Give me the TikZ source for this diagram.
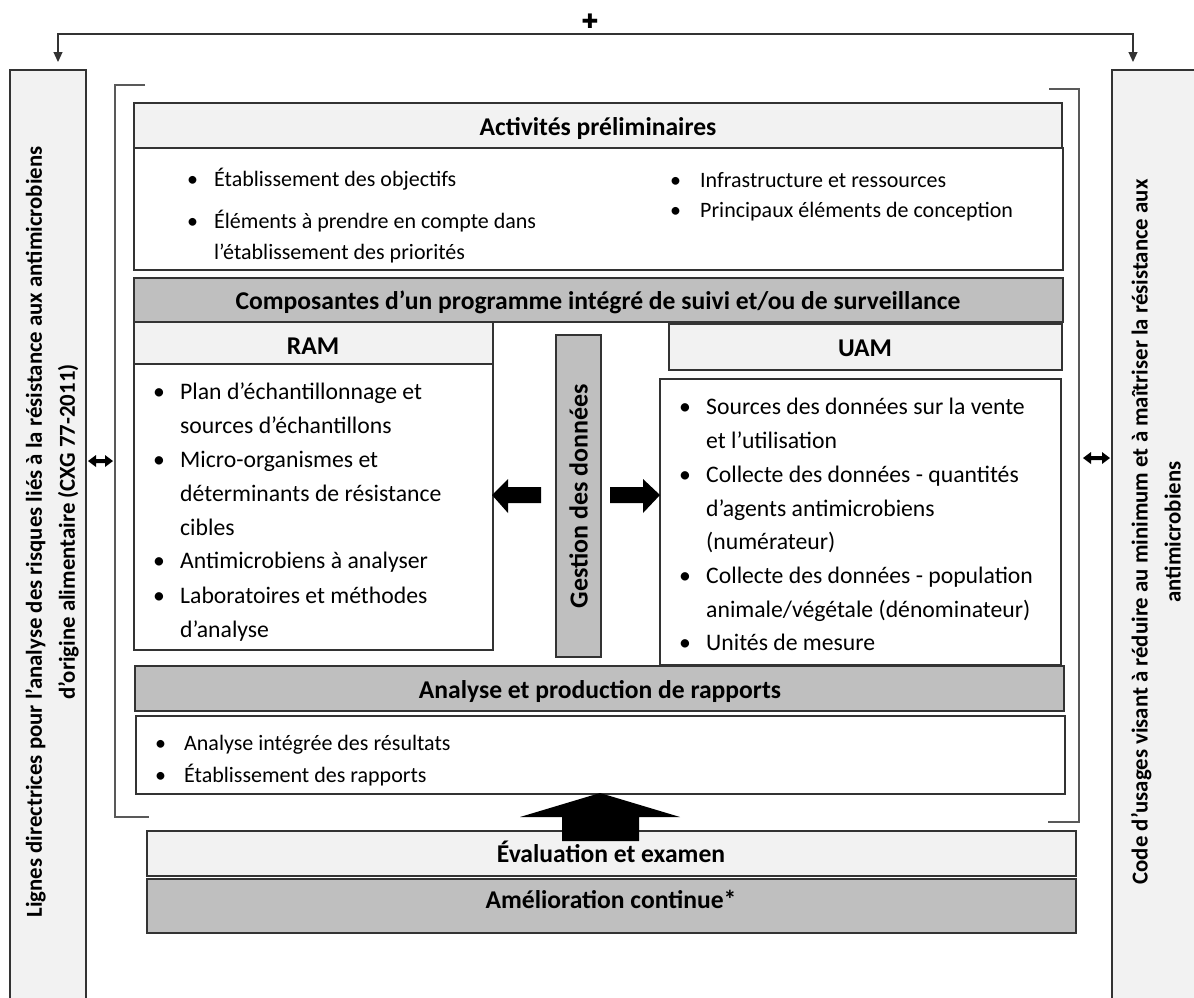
\documentclass[tikz,border=0pt]{standalone}
\usepackage{fontspec}
\setmainfont{Carlito}
\newfontfamily\djv{DejaVu Sans}
\usetikzlibrary{arrows.meta,fit}
\definecolor{lg}{HTML}{F2F2F2}
\definecolor{dg}{HTML}{BFBFBF}
\definecolor{bd}{HTML}{333333}
\newcommand\bul{\makebox[27pt][l]{\textbullet}}
\begin{document}
\begin{tikzpicture}[x=1pt,y=-1pt,
 frame/.style={draw=bd,line width=1.4pt,inner sep=0pt,outer sep=0pt},
 lbox/.style={frame,fill=lg},
 dbox/.style={frame,fill=dg},
 wbox/.style={frame,fill=white},
 hd/.style={font=\fontsize{25.6}{30}\selectfont\bfseries,inner sep=0pt,anchor=base},
 itm/.style={font=\fontsize{22}{26}\selectfont,inner sep=0pt,anchor=base west},
 itb/.style={font=\fontsize{23.7}{28}\selectfont,inner sep=0pt,anchor=base west},
 side/.style={font=\fontsize{22.8}{33}\selectfont\bfseries,align=center,rotate=90,inner sep=0pt},
 conn/.style={line width=1.1pt,draw=bd},
 brk/.style={line width=1.3pt,draw=black!65},
 blk/.style={fill=black,draw=none}]
\useasboundingbox (0,0) rectangle (1194,997);
\clip (0,0) rectangle (1194,997);
% side bars
\node[lbox, fit={(10,70)(86,1010)}] (lbar) {};
\node[lbox, fit={(1112,70)(1210,1010)}] (rbar) {};
\node[side] (ltxt) at (52,532) {Lignes directrices pour l’analyse des risques liés à la résistance aux antimicrobiens\\d’origine alimentaire (CXG 77-2011)};
\node[side] (rtxt) at (1156,532) {Code d’usages visant à réduire au minimum et à maîtriser la résistance aux\\antimicrobiens};
% top connector
\node[font=\fontsize{20}{20}\selectfont\djv,inner sep=0pt] (plus) at (590,21) {✚};
\coordinate (la) at (58,62);
\coordinate (ra) at (1133,62);
\coordinate (tm) at (590,34);
\draw[conn,{Triangle[length=10pt,width=9pt]}-{Triangle[length=10pt,width=9pt]}] (la) |- (tm) -| (ra);
% brackets
\draw[brk] (145,85) -- (115,85) -- (115,817) -- (149,817);
\draw[brk] (1049,89) -- (1079,89) -- (1079,822) -- (1048,822);
% double arrows (bold, between side bars and bracket)
\fill[blk] (88,461) -- (96,455) -- (96,459) -- (105,459) -- (105,455) -- (113,461) -- (105,467) -- (105,463) -- (96,463) -- (96,467) -- cycle;
\fill[blk] (1083,458) -- (1091,452) -- (1091,456) -- (1102,456) -- (1102,452) -- (1110,458) -- (1102,464) -- (1102,460) -- (1091,460) -- (1091,464) -- cycle;
% Activites
\node[wbox, fit={(134,148)(1063,270)}] (actb) {};
\node[lbox, fit={(134,103)(1062,148)}] (act) {};
\node[hd] (actt) at (598,135) {Activités préliminaires};
\node[itm] (a1) at (187,186) {\bul Établissement des objectifs};
\node[itm] (a2) at (187,228) {\bul Éléments à prendre en compte dans};
\node[itm] (a3) at (214,259) {l’établissement des priorités};
\node[itm] (a4) at (670,187) {\makebox[30pt][l]{\textbullet}Infrastructure et ressources};
\node[itm] (a5) at (670,217) {\makebox[30pt][l]{\textbullet}Principaux éléments de conception};
% Composantes
\node[dbox, fit={(134,278)(1063,322)}] (comp) {};
\node[hd] (compt) at (598,309) {Composantes d’un programme intégré de suivi et/ou de surveillance};
% RAM
\node[wbox, fit={(134,364)(493,650)}] (ramb) {};
\node[lbox, fit={(134,322)(493,364)}] (ram) {};
\node[hd] (ramt) at (313,354) {RAM};
\node[itb] (r1) at (153,399) {\bul Plan d’échantillonnage et};
\node[itb] (r2) at (180,433) {sources d’échantillons};
\node[itb] (r3) at (153,467) {\bul Micro-organismes et};
\node[itb] (r4) at (180,501) {déterminants de résistance};
\node[itb] (r5) at (180,535) {cibles};
\node[itb] (r6) at (153,568) {\bul Antimicrobiens à analyser};
\node[itb] (r7) at (153,603) {\bul Laboratoires et méthodes};
\node[itb] (r8) at (180,637) {d’analyse};
% Gestion
\node[dbox, fit={(556,335)(601,657)}] (gest) {};
\node[font=\fontsize{26}{30}\selectfont\bfseries, rotate=90, inner sep=0pt] (gtxt) at (gest.center) {Gestion des données};
% UAM
\node[lbox, fit={(669,324)(1062,370)}] (uam) {};
\node[hd] (uamt) at (865,356) {UAM};
\node[wbox, fit={(660,379)(1061,665)}] (uamb) {};
\node[itb] (u1) at (679,414) {\bul Sources des données sur la vente};
\node[itb] (u2) at (706,448) {et l’utilisation};
\node[itb] (u3) at (679,482) {\bul Collecte des données - quantités};
\node[itb] (u4) at (706,516) {d’agents antimicrobiens};
\node[itb] (u5) at (706,549) {(numérateur)};
\node[itb] (u6) at (679,583) {\bul Collecte des données - population};
\node[itb] (u7) at (706,617) {animale/végétale (dénominateur)};
\node[itb] (u8) at (679,650) {\bul Unités de mesure};
% block arrows gestion -> RAM / UAM
\fill[blk] (492,495) -- (508,479) -- (508,487) -- (541,487) -- (541,503) -- (508,503) -- (508,513) -- cycle;
\fill[blk] (660,495) -- (643,479) -- (643,487) -- (610,487) -- (610,503) -- (643,503) -- (643,513) -- cycle;
% Analyse
\node[dbox, fit={(135,666)(1064,711)}] (ana) {};
\node[hd] (anat) at (600,698) {Analyse et production de rapports};
\node[wbox, fit={(136,716)(1065,794)}] (anab) {};
\node[itm] (n1) at (155,750) {\makebox[29pt][l]{\textbullet}Analyse intégrée des résultats};
\node[itm] (n2) at (155,782) {\makebox[29pt][l]{\textbullet}Établissement des rapports};
% Evaluation / Amelioration
\node[lbox, fit={(147,831)(1076,876)}] (eval) {};
\node[hd] (evalt) at (611,862) {Évaluation et examen};
\node[dbox, fit={(147,879)(1076,933)}] (amel) {};
\node[hd] (ameltxt) at (611,908) {Amélioration continue*};
% up arrow
\fill[blk] (600,793) -- (680,817) -- (639,817) -- (639,841) -- (562,841) -- (562,817) -- (520,817) -- cycle;
\end{tikzpicture}
\end{document}
